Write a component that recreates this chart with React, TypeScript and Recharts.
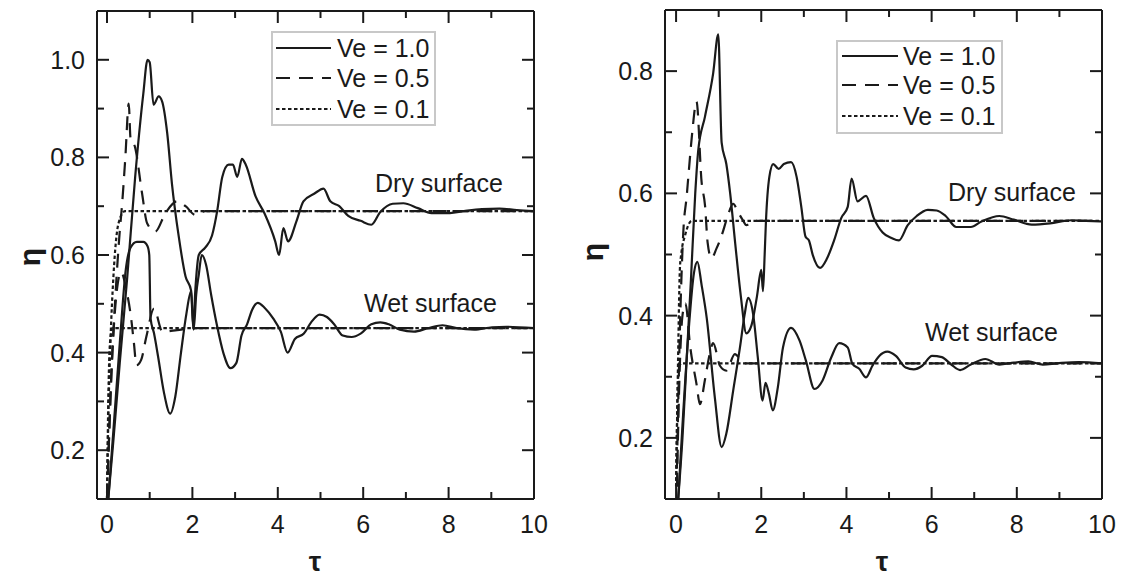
import React from "react";
import { LineChart, Line, XAxis, YAxis } from "recharts";

type Pt = [number, number];

// ---- left panel: tau vs eta, dry / wet surface ----
const L_DRY_10: Pt[] = [
  [0.03, 0.1], [0.15, 0.22], [0.3, 0.38], [0.47, 0.55], [0.66, 0.76], [0.85, 0.93], [0.95, 1.0],
  [1.0, 0.995], [1.09, 0.908], [1.21, 0.925], [1.29, 0.915], [1.41, 0.85], [1.52, 0.747],
  [1.68, 0.638], [1.84, 0.556], [1.97, 0.527], [2.02, 0.45], [2.07, 0.53], [2.15, 0.6],
  [2.3, 0.615], [2.46, 0.64], [2.58, 0.69], [2.7, 0.76], [2.85, 0.785], [2.95, 0.785],
  [3.05, 0.76], [3.16, 0.797], [3.25, 0.785], [3.48, 0.72], [3.69, 0.685], [3.94, 0.628],
  [4.03, 0.6], [4.13, 0.655], [4.24, 0.628], [4.44, 0.67], [4.6, 0.71], [4.86, 0.726],
  [5.07, 0.736], [5.23, 0.71], [5.44, 0.7], [5.65, 0.68], [5.94, 0.67], [6.19, 0.662],
  [6.4, 0.688], [6.69, 0.705], [6.94, 0.706], [7.28, 0.696], [7.6, 0.686], [8.03, 0.686],
  [8.36, 0.69], [8.78, 0.694], [9.19, 0.695], [9.6, 0.692], [10, 0.69],
];
const L_DRY_05: Pt[] = [
  [0.02, 0.15], [0.1, 0.35], [0.2, 0.52], [0.3, 0.65], [0.35, 0.7], [0.43, 0.8], [0.51, 0.91],
  [0.55, 0.84], [0.66, 0.82], [0.82, 0.727], [0.94, 0.665], [1.13, 0.648], [1.37, 0.686],
  [1.64, 0.71], [1.84, 0.7], [2.07, 0.682], [2.3, 0.69], [10, 0.69],
];
const L_DRY_01: Pt[] = [
  [0, 0.1], [0.04, 0.3], [0.08, 0.42], [0.15, 0.555], [0.27, 0.665], [0.42, 0.69], [10, 0.69],
];
const L_WET_10: Pt[] = [
  [0.03, 0.1], [0.15, 0.24], [0.3, 0.42], [0.44, 0.57], [0.55, 0.615], [0.7, 0.627],
  [0.85, 0.627], [0.95, 0.618], [0.99, 0.6], [1.02, 0.47], [1.1, 0.44], [1.2, 0.39],
  [1.33, 0.32], [1.48, 0.275], [1.6, 0.31], [1.73, 0.398], [1.86, 0.48], [1.97, 0.526],
  [2.03, 0.447], [2.09, 0.52], [2.15, 0.56], [2.22, 0.6], [2.32, 0.58], [2.44, 0.518],
  [2.57, 0.458], [2.73, 0.398], [2.89, 0.368], [3.03, 0.379], [3.15, 0.435], [3.28, 0.458],
  [3.4, 0.488], [3.53, 0.502], [3.69, 0.492], [3.9, 0.469], [4.07, 0.443], [4.23, 0.4],
  [4.4, 0.428], [4.61, 0.439], [4.78, 0.462], [4.98, 0.478], [5.15, 0.473], [5.32, 0.458],
  [5.52, 0.435], [5.73, 0.432], [5.94, 0.439], [6.19, 0.458], [6.4, 0.462], [6.6, 0.458],
  [6.86, 0.447], [7.19, 0.443], [7.52, 0.45], [7.86, 0.456], [8.19, 0.45], [8.6, 0.447],
  [9.02, 0.452], [9.36, 0.453], [10, 0.45],
];
const L_WET_05: Pt[] = [
  [0.02, 0.15], [0.1, 0.35], [0.2, 0.5], [0.33, 0.565], [0.45, 0.53], [0.57, 0.467],
  [0.63, 0.42], [0.69, 0.374], [0.8, 0.385], [0.92, 0.432], [1.1, 0.49], [1.3, 0.443],
  [1.64, 0.446], [2.0, 0.45], [10, 0.45],
];
const L_WET_01: Pt[] = [[0, 0.1], [0.03, 0.3], [0.07, 0.42], [0.13, 0.45], [10, 0.45]];

// ---- right panel ----
const R_DRY_10: Pt[] = [
  [0.05, 0.1], [0.15, 0.2], [0.25, 0.33], [0.35, 0.46], [0.45, 0.6], [0.52, 0.67],
  [0.68, 0.726], [0.87, 0.796], [0.99, 0.86], [1.07, 0.683], [1.18, 0.648], [1.27, 0.6],
  [1.39, 0.517], [1.52, 0.432], [1.65, 0.371], [1.77, 0.384], [1.9, 0.432], [2.0, 0.475],
  [2.04, 0.44], [2.08, 0.5], [2.11, 0.554], [2.19, 0.627], [2.28, 0.648], [2.41, 0.64],
  [2.53, 0.648], [2.7, 0.651], [2.83, 0.627], [2.94, 0.578], [3.04, 0.529], [3.12, 0.523],
  [3.21, 0.499], [3.38, 0.478], [3.54, 0.493], [3.71, 0.523], [3.88, 0.56], [4.03, 0.578],
  [4.12, 0.624], [4.26, 0.587], [4.46, 0.596], [4.64, 0.56], [4.85, 0.536], [5.06, 0.527],
  [5.23, 0.523], [5.44, 0.548], [5.65, 0.563], [5.91, 0.573], [6.12, 0.572], [6.33, 0.563],
  [6.58, 0.545], [6.92, 0.545], [7.17, 0.554], [7.59, 0.563], [7.93, 0.557], [8.35, 0.549],
  [8.78, 0.551], [9.28, 0.556], [9.62, 0.555], [10, 0.554],
];
const R_DRY_05: Pt[] = [
  [0.02, 0.15], [0.08, 0.35], [0.17, 0.537], [0.25, 0.596], [0.29, 0.629], [0.38, 0.7],
  [0.48, 0.75], [0.6, 0.618], [0.68, 0.58], [0.74, 0.52], [0.83, 0.494], [0.95, 0.51],
  [1.07, 0.531], [1.2, 0.56], [1.34, 0.583], [1.45, 0.57], [1.57, 0.556], [1.65, 0.548],
  [1.8, 0.555], [10, 0.555],
];
const R_DRY_01: Pt[] = [
  [0, 0.12], [0.04, 0.3], [0.09, 0.477], [0.12, 0.5], [0.21, 0.531], [0.37, 0.555], [10, 0.555],
];
const R_WET_10: Pt[] = [
  [0.05, 0.1], [0.15, 0.22], [0.3, 0.38], [0.42, 0.47], [0.5, 0.488], [0.6, 0.45],
  [0.72, 0.396], [0.91, 0.266], [1.07, 0.185], [1.18, 0.207], [1.34, 0.277], [1.5, 0.348],
  [1.61, 0.402], [1.69, 0.429], [1.81, 0.402], [1.92, 0.331], [2.03, 0.261], [2.1, 0.29],
  [2.18, 0.272], [2.27, 0.245], [2.39, 0.283], [2.51, 0.348], [2.7, 0.38], [2.9, 0.359],
  [3.05, 0.326], [3.25, 0.28], [3.44, 0.294], [3.64, 0.331], [3.83, 0.355], [4.03, 0.348],
  [4.14, 0.321], [4.3, 0.313], [4.46, 0.299], [4.61, 0.318], [4.77, 0.334], [4.96, 0.341],
  [5.16, 0.334], [5.39, 0.315], [5.58, 0.312], [5.78, 0.318], [6.01, 0.334], [6.24, 0.332],
  [6.46, 0.32], [6.67, 0.311], [6.92, 0.32], [7.26, 0.329], [7.59, 0.32], [7.93, 0.323],
  [8.27, 0.325], [8.61, 0.32], [8.95, 0.322], [9.45, 0.324], [10, 0.322],
];
const R_WET_05: Pt[] = [
  [0.02, 0.12], [0.08, 0.3], [0.15, 0.4], [0.22, 0.42], [0.33, 0.35], [0.48, 0.288],
  [0.56, 0.255], [0.68, 0.296], [0.79, 0.337], [0.87, 0.355], [1.03, 0.318], [1.18, 0.31],
  [1.38, 0.337], [1.6, 0.322], [10, 0.322],
];
const R_WET_01: Pt[] = [[0, 0.12], [0.03, 0.25], [0.06, 0.31], [0.12, 0.322], [10, 0.322]];

const X_TICKS = [0, 1, 2, 3, 4, 5, 6, 7, 8, 9, 10];
const L_Y_TICKS = [0.2, 0.3, 0.4, 0.5, 0.6, 0.7, 0.8, 0.9, 1.0];
const R_Y_TICKS = [0.2, 0.3, 0.4, 0.5, 0.6, 0.7, 0.8];
const LEGEND_LABELS = ["Ve = 1.0", "Ve = 0.5", "Ve = 0.1"];

const FONT = '"Liberation Sans", Arial, sans-serif';
const INK = "#1a1a1a";
const DASH = { "1.0": undefined, "0.5": "14 9", "0.1": "3.5 2.5" } as const;

const toRows = (pts: Pt[]) => pts.map(([t, v]) => ({ t, v }));

const isMajorX = (v: number) => Math.round(v) % 2 === 0;
const isMajorY = (v: number) => Math.round(v * 10) % 2 === 0;

function tickFor(side: "bottom" | "top" | "left" | "right", major: (v: number) => boolean, fmt?: (v: number) => string) {
  return (props: any) => {
    const { x, y, payload } = props;
    const v = payload.value as number;
    const m = major(v);
    const len = m ? 12 : 7;
    let line;
    if (side === "bottom") line = <line x1={x} y1={y} x2={x} y2={y - len} />;
    else if (side === "top") line = <line x1={x} y1={y} x2={x} y2={y + len} />;
    else if (side === "left") line = <line x1={x} y1={y} x2={x + len} y2={y} />;
    else line = <line x1={x} y1={y} x2={x - len} y2={y} />;
    return (
      <g stroke={INK} strokeWidth={2}>
        {line}
        {m && fmt && side === "bottom" && (
          <text x={x} y={y + 34} textAnchor="middle" fill={INK} stroke="none" fontSize={25} fontFamily={FONT}>
            {fmt(v)}
          </text>
        )}
        {m && fmt && side === "left" && (
          <text x={x - 12} y={y + 9} textAnchor="end" fill={INK} stroke="none" fontSize={25} fontFamily={FONT}>
            {fmt(v)}
          </text>
        )}
      </g>
    );
  };
}

interface PanelProps {
  left: number;
  width: number;
  yAxisWidth: number;
  marginTop: number;
  marginRight: number;
  xDomain: [number, number];
  yDomain: [number, number];
  yTicks: number[];
  series: { pts: Pt[]; ve: "1.0" | "0.5" | "0.1" }[];
}

function Panel(p: PanelProps) {
  const axisLine = { stroke: INK, strokeWidth: 2 };
  return (
    <div style={{ position: "absolute", left: p.left, top: 0 }}>
      <LineChart width={p.width} height={581} margin={{ top: p.marginTop, right: p.marginRight, bottom: 0, left: 0 }}>
        <XAxis
          xAxisId={0}
          dataKey="t"
          type="number"
          domain={p.xDomain}
          allowDataOverflow
          ticks={X_TICKS}
          interval={0}
          height={82}
          tickSize={0}
          tickMargin={0}
          tickLine={false}
          axisLine={axisLine}
          tick={tickFor("bottom", isMajorX, (v) => String(v))}
        />
        <XAxis
          xAxisId="top"
          orientation="top"
          dataKey="t"
          type="number"
          domain={p.xDomain}
          allowDataOverflow
          ticks={X_TICKS}
          interval={0}
          height={1}
          tickSize={0}
          tickMargin={0}
          tickLine={false}
          axisLine={axisLine}
          tick={tickFor("top", isMajorX)}
        />
        <YAxis
          yAxisId={0}
          type="number"
          domain={p.yDomain}
          allowDataOverflow
          ticks={p.yTicks}
          interval={0}
          width={p.yAxisWidth}
          tickSize={0}
          tickMargin={0}
          tickLine={false}
          axisLine={axisLine}
          tick={tickFor("left", isMajorY, (v) => v.toFixed(1))}
        />
        <YAxis
          yAxisId="right"
          orientation="right"
          type="number"
          domain={p.yDomain}
          allowDataOverflow
          ticks={p.yTicks}
          interval={0}
          width={1}
          tickSize={0}
          tickMargin={0}
          tickLine={false}
          axisLine={axisLine}
          tick={tickFor("right", isMajorY)}
        />
        {p.series.map((s, i) => (
          <Line
            key={i}
            xAxisId={0}
            yAxisId={0}
            data={toRows(s.pts)}
            dataKey="v"
            type="monotone"
            stroke={INK}
            strokeWidth={2.2}
            strokeDasharray={DASH[s.ve]}
            dot={false}
            activeDot={false}
            isAnimationActive={false}
          />
        ))}
      </LineChart>
    </div>
  );
}

function LegendBox({ x, y, w, h, rows, lineX1, lineX2, textX }: { x: number; y: number; w: number; h: number; rows: number[]; lineX1: number; lineX2: number; textX: number }) {
  const styles = [DASH["1.0"], DASH["0.5"], DASH["0.1"]];
  return (
    <g>
      <rect x={x} y={y} width={w} height={h} fill="#fff" stroke="#c8c8c8" strokeWidth={2} />
      {rows.map((ry, i) => (
        <g key={i}>
          <line x1={lineX1} x2={lineX2} y1={ry - 9} y2={ry - 9} stroke={INK} strokeWidth={2} strokeDasharray={styles[i]} />
          <text x={textX} y={ry} fontSize={25} fontFamily={FONT} fill={INK}>{LEGEND_LABELS[i]}</text>
        </g>
      ))}
    </g>
  );
}

export default function App() {
  return (
    <div style={{ position: "absolute", left: 0, top: 0, width: 1123, height: 581, background: "#fff", overflow: "hidden" }}>
      <Panel
        left={0}
        width={560}
        yAxisWidth={97}
        marginTop={10}
        marginRight={25}
        xDomain={[-0.234, 10]}
        yDomain={[0.1, 1.1]}
        yTicks={L_Y_TICKS}
        series={[
          { pts: L_DRY_01, ve: "0.1" }, { pts: L_WET_01, ve: "0.1" },
          { pts: L_DRY_05, ve: "0.5" }, { pts: L_WET_05, ve: "0.5" },
          { pts: L_DRY_10, ve: "1.0" }, { pts: L_WET_10, ve: "1.0" },
        ]}
      />
      <Panel
        left={560}
        width={563}
        yAxisWidth={105}
        marginTop={9}
        marginRight={20}
        xDomain={[-0.26, 10]}
        yDomain={[0.1, 0.9]}
        yTicks={R_Y_TICKS}
        series={[
          { pts: R_DRY_01, ve: "0.1" }, { pts: R_WET_01, ve: "0.1" },
          { pts: R_DRY_05, ve: "0.5" }, { pts: R_WET_05, ve: "0.5" },
          { pts: R_DRY_10, ve: "1.0" }, { pts: R_WET_10, ve: "1.0" },
        ]}
      />
      <svg width={1123} height={581} style={{ position: "absolute", left: 0, top: 0, pointerEvents: "none" }}>
        <LegendBox x={272} y={32} w={163} h={93} rows={[57, 87, 118]} lineX1={276} lineX2={331} textX={337} />
        <LegendBox x={837} y={41} w={165} h={92} rows={[65, 94, 125]} lineX1={842} lineX2={898} textX={903} />
        <text x={375} y={192} fontSize={25} fontFamily={FONT} fill={INK}>Dry surface</text>
        <text x={364} y={312} fontSize={25} fontFamily={FONT} fill={INK}>Wet surface</text>
        <text x={948} y={201} fontSize={25} fontFamily={FONT} fill={INK}>Dry surface</text>
        <text x={925} y={341} fontSize={25} fontFamily={FONT} fill={INK}>Wet surface</text>
        <text x={0} y={0} transform="translate(40 257) rotate(-90)" textAnchor="middle" fontSize={30} fontWeight="bold" fontFamily={FONT} fill={INK}>η</text>
        <text x={0} y={0} transform="translate(603 252) rotate(-90)" textAnchor="middle" fontSize={30} fontWeight="bold" fontFamily={FONT} fill={INK}>η</text>
        <text x={315} y={571} textAnchor="middle" fontSize={28} fontWeight="bold" fontFamily={FONT} fill={INK}>τ</text>
        <text x={882} y={571} textAnchor="middle" fontSize={28} fontWeight="bold" fontFamily={FONT} fill={INK}>τ</text>
      </svg>
    </div>
  );
}
